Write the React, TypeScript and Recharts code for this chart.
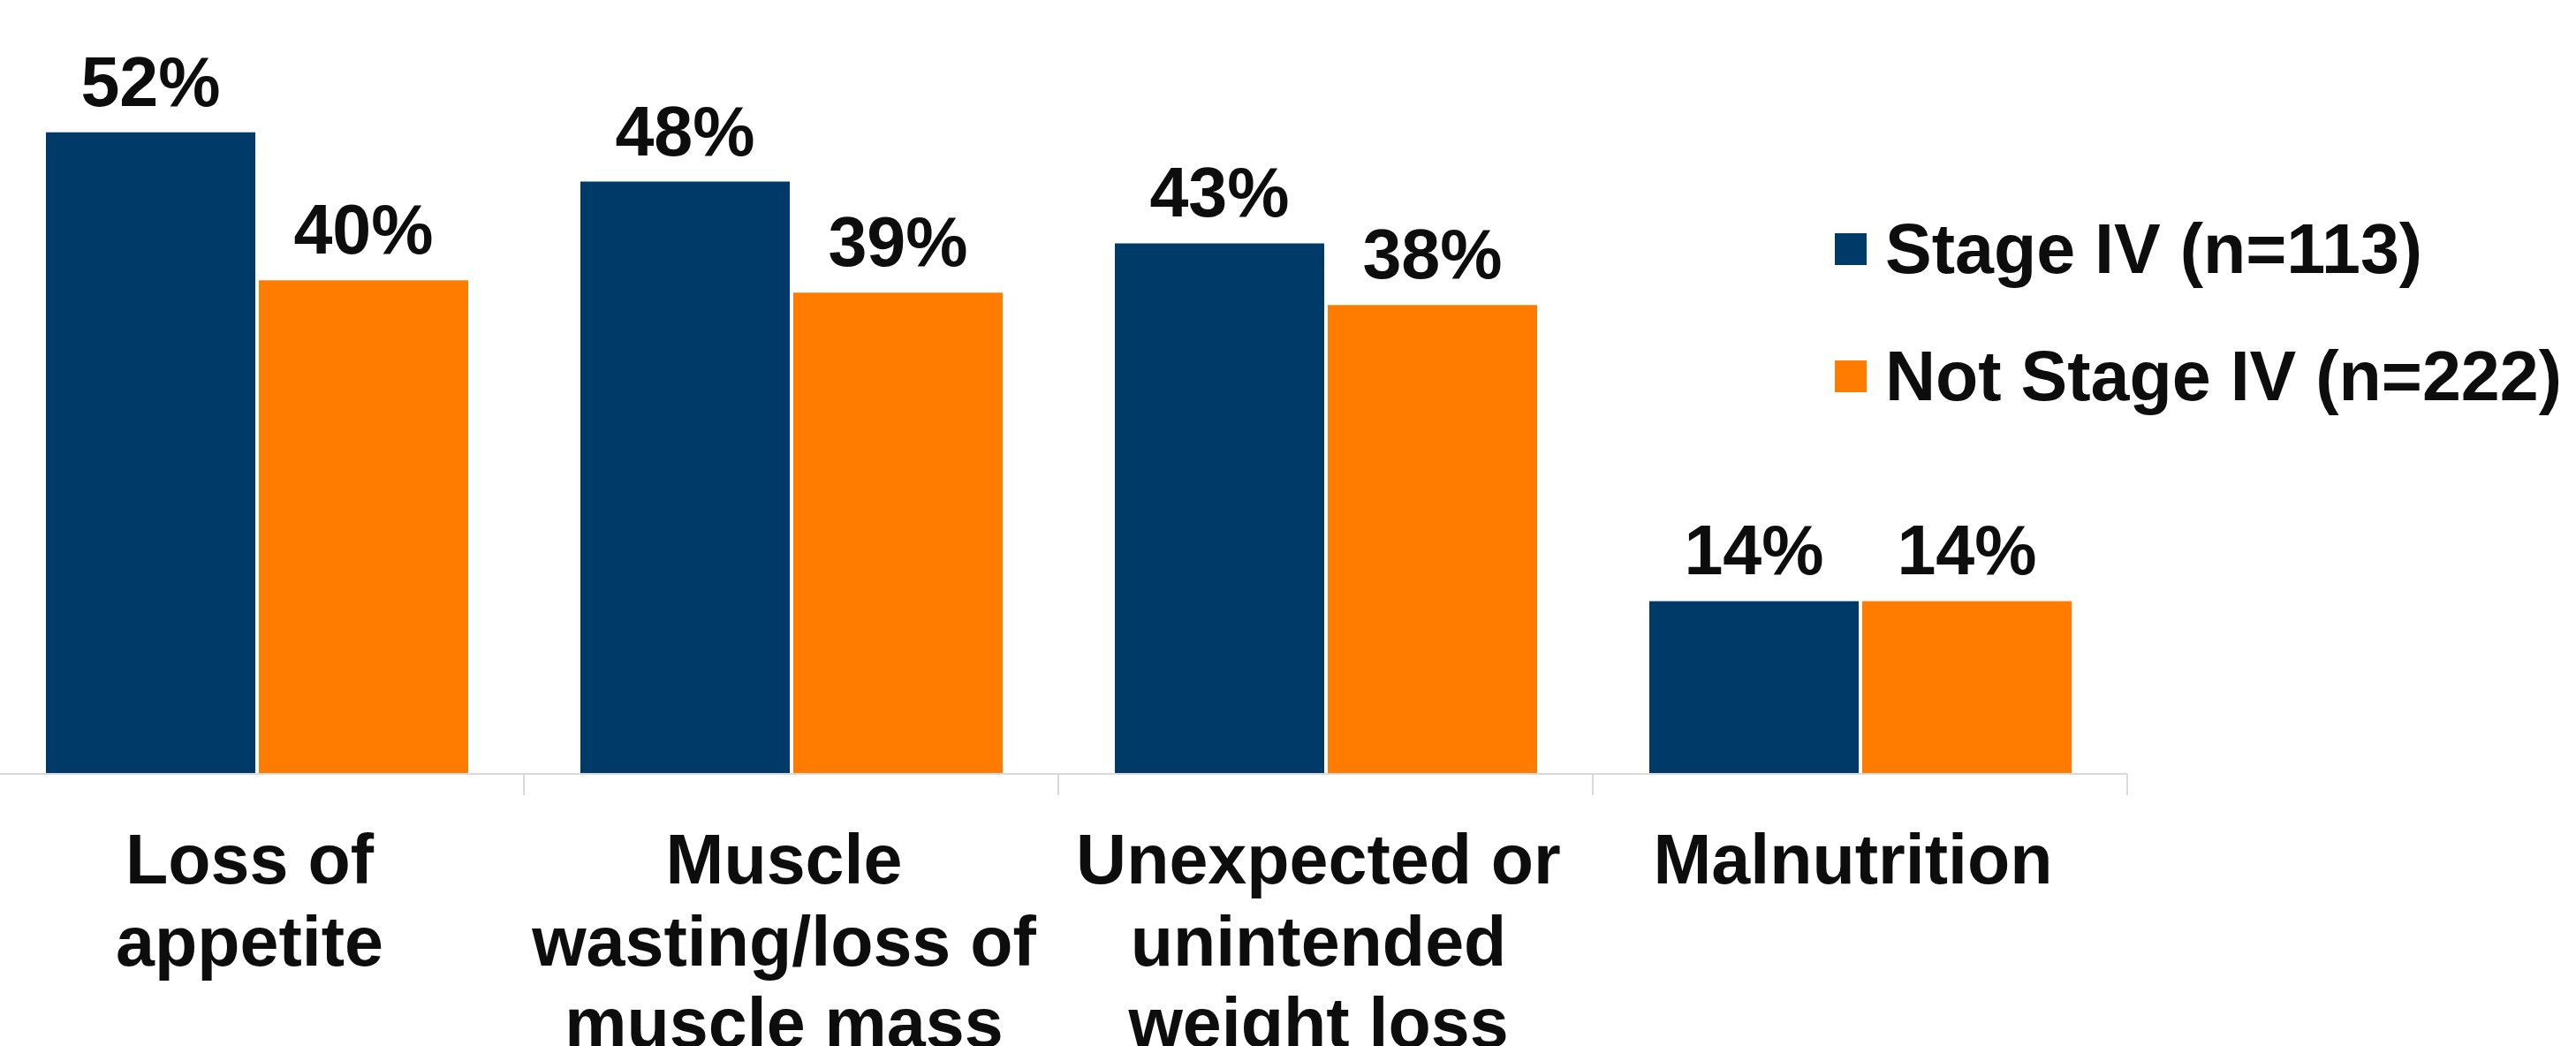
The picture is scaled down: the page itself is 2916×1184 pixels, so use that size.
import { BarChart, Bar, XAxis, YAxis, Legend, LabelList } from 'recharts';

const categories = [
  'Loss of\nappetite',
  'Muscle\nwasting/loss of\nmuscle mass',
  'Unexpected or\nunintended\nweight loss',
  'Malnutrition',
];
const stageIV = [52, 48, 43, 14];
const notStageIV = [40, 39, 38, 14];
const seriesNames = ['Stage IV (n=113)', 'Not Stage IV (n=222)'];

const BLUE = '#003a69';
const ORANGE = '#ff7c00';
const TEXT = '#0d0d0d';
const AXIS = '#d9d9d9';
const FONT = '"Liberation Sans", Arial, sans-serif';

const W = 2916;
const H = 1184;
const MARGIN = { top: 38, right: 508, bottom: 0, left: -12 };
const PLOT_W = W - MARGIN.left - MARGIN.right;
const BAND = PLOT_W / categories.length;

const data = categories.map((name, i) => ({
  name,
  stage: stageIV[i],
  notStage: notStageIV[i],
}));

// category label under the axis plus a divider tick at the right edge of the band
const CategoryTick = (props: any) => {
  const { x, y, payload } = props;
  const lines = String(payload.value).split('\n');
  return (
    <g>
      <line x1={x + BAND / 2} x2={x + BAND / 2} y1={y} y2={y + 24} stroke={AXIS} strokeWidth={2} />
      <text
        x={x - 8}
        y={y + 124}
        textAnchor="middle"
        fill={TEXT}
        fontFamily={FONT}
        fontWeight="bold"
        fontSize={79}
      >
        {lines.map((l, i) => (
          <tspan key={i} x={x - 8} dy={i === 0 ? 0 : 92.5}>
            {l}
          </tspan>
        ))}
      </text>
    </g>
  );
};

const ValueLabel = (props: any) => {
  const { x, y, width, value } = props;
  return (
    <text
      x={x + width / 2}
      y={y - 30}
      textAnchor="middle"
      fill={TEXT}
      fontFamily={FONT}
      fontWeight="bold"
      fontSize={79}
    >
      {value}%
    </text>
  );
};

const renderLegend = (props: any) => {
  // keep series order (Stage IV first)
  const payload = [...(props.payload || [])].sort(
    (a: any, b: any) => seriesNames.indexOf(a.value) - seriesNames.indexOf(b.value)
  );
  return (
    <div style={{ fontFamily: FONT }}>
      {payload.map((entry: any) => (
        <div key={entry.value} style={{ display: 'flex', alignItems: 'center', height: 144 }}>
          <span style={{ display: 'inline-block', width: 36, height: 36, background: entry.color, marginRight: 21 }} />
          <span style={{ fontSize: 79, fontWeight: 'bold', color: TEXT, lineHeight: '144px', whiteSpace: 'nowrap' }}>
            {entry.value}
          </span>
        </div>
      ))}
    </div>
  );
};

export default function App() {
  return (
    <div style={{ position: 'absolute', left: 0, top: 0, width: W, height: H, background: '#fff' }}>
      <BarChart width={W} height={H} data={data} margin={MARGIN} barGap={4} barSize={237}>
        <XAxis
          dataKey="name"
          height={308}
          axisLine={{ stroke: AXIS, strokeWidth: 2 }}
          tickLine={false}
          tickSize={0}
          tickMargin={0}
          interval={0}
          tick={<CategoryTick />}
        />
        <YAxis hide domain={[0, 60]} />
        <Legend
          layout="vertical"
          align="center"
          verticalAlign="middle"
          content={renderLegend}
          wrapperStyle={{ left: 2077, top: 210, width: 'auto' }}
        />
        <Bar dataKey="stage" name={seriesNames[0]} fill={BLUE} isAnimationActive={false}>
          <LabelList dataKey="stage" content={<ValueLabel />} />
        </Bar>
        <Bar dataKey="notStage" name={seriesNames[1]} fill={ORANGE} isAnimationActive={false}>
          <LabelList dataKey="notStage" content={<ValueLabel />} />
        </Bar>
      </BarChart>
    </div>
  );
}
